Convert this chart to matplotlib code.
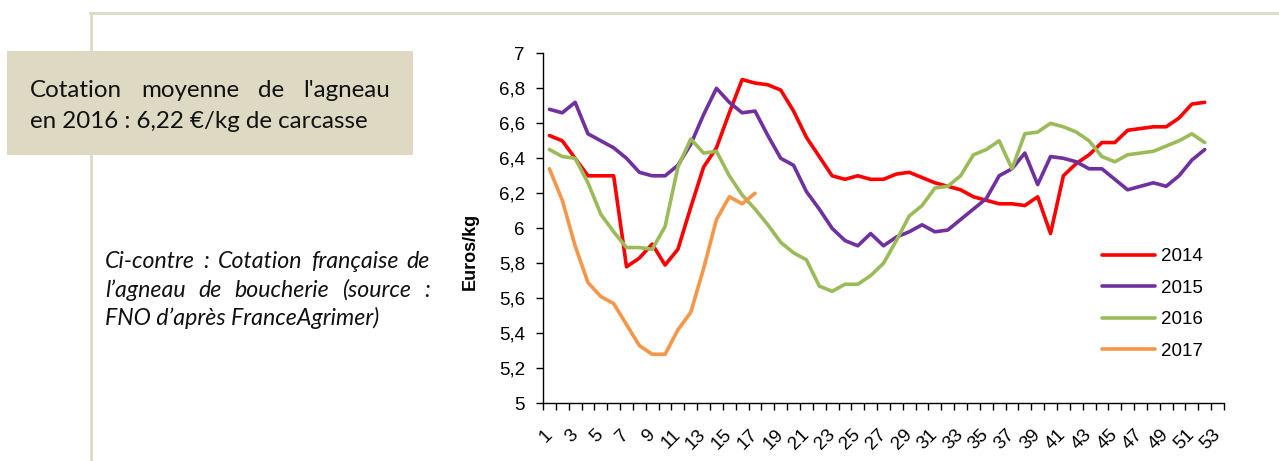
import matplotlib
matplotlib.use("Agg")
import matplotlib.pyplot as plt
import numpy as np
from matplotlib.lines import Line2D
from matplotlib.patches import Rectangle
from matplotlib.ticker import FuncFormatter

# weekly lamb price (euros / kg carcass)
weeks = list(range(1, 53))
prices_2014 = [6.53, 6.50, 6.40, 6.30, 6.30, 6.30, 5.78, 5.83, 5.91, 5.79,
               5.88, 6.12, 6.35, 6.46, 6.66, 6.85, 6.83, 6.82, 6.79, 6.67,
               6.52, 6.41, 6.30, 6.28, 6.30, 6.28, 6.28, 6.31, 6.32, 6.29,
               6.26, 6.24, 6.22, 6.18, 6.16, 6.14, 6.14, 6.13, 6.18, 5.97,
               6.30, 6.37, 6.42, 6.49, 6.49, 6.56, 6.57, 6.58, 6.58, 6.63,
               6.71, 6.72]
prices_2015 = [6.68, 6.66, 6.72, 6.54, 6.50, 6.46, 6.40, 6.32, 6.30, 6.30,
               6.36, 6.48, 6.65, 6.80, 6.72, 6.66, 6.67, 6.53, 6.40, 6.36,
               6.21, 6.11, 6.00, 5.93, 5.90, 5.97, 5.90, 5.95, 5.98, 6.02,
               5.98, 5.99, 6.05, 6.11, 6.17, 6.30, 6.34, 6.43, 6.25, 6.41,
               6.40, 6.38, 6.34, 6.34, 6.28, 6.22, 6.24, 6.26, 6.24, 6.30,
               6.39, 6.45]
prices_2016 = [6.45, 6.41, 6.40, 6.26, 6.08, 5.98, 5.89, 5.89, 5.88, 6.01,
               6.35, 6.51, 6.43, 6.44, 6.30, 6.19, 6.11, 6.02, 5.92, 5.86,
               5.82, 5.67, 5.64, 5.68, 5.68, 5.73, 5.80, 5.93, 6.07, 6.13,
               6.23, 6.24, 6.30, 6.42, 6.45, 6.50, 6.34, 6.54, 6.55, 6.60,
               6.58, 6.55, 6.50, 6.41, 6.38, 6.42, 6.43, 6.44, 6.47, 6.50,
               6.54, 6.49]
prices_2017 = [6.34, 6.16, 5.90, 5.69, 5.61, 5.57, 5.45, 5.33, 5.28, 5.28,
               5.42, 5.52, 5.77, 6.05, 6.18, 6.14, 6.20]

series = [("2014", prices_2014, "#FF0000"),
          ("2015", prices_2015, "#7030A0"),
          ("2016", prices_2016, "#9BBB59"),
          ("2017", prices_2017, "#F79646")]

W, H = 1279, 461
BEIGE = "#DDD9C3"

plt.rcParams['font.family'] = ['Liberation Sans', 'DejaVu Sans']

fig = plt.figure(figsize=(W / 100, H / 100), dpi=100)
fig.patch.set_facecolor("white")


def fx(x):
    return x / W


def fy(y):
    return 1 - y / H


def justify(words, x0, x1, y, **kw):
    """Place words on one line so that they fill x0..x1 (pixels)"""
    r = fig.canvas.get_renderer()
    texts = [fig.text(0, 0, w, va='baseline', ha='left', **kw) for w in words]
    widths = [t.get_window_extent(r).width for t in texts]
    gap = (x1 - x0 - sum(widths)) / (len(words) - 1)
    x = x0
    for t, w in zip(texts, widths):
        t.set_position((fx(x), fy(y)))
        x += w + gap


# page decoration: frame lines and the highlighted box
fig.add_artist(Line2D([fx(90), fx(W)], [fy(13.5), fy(13.5)], color=BEIGE, lw=2))
fig.add_artist(Line2D([fx(91), fx(91)], [fy(13), fy(H)], color=BEIGE, lw=2))
fig.add_artist(Rectangle((fx(7), fy(155)), fx(413) - fx(7), fy(51) - fy(155),
                         transform=fig.transFigure, facecolor=BEIGE,
                         edgecolor='none', zorder=2))

box_font = dict(family=['Lato', 'DejaVu Sans'], fontsize=17.4, color='#111111', zorder=3)
justify(["Cotation", "moyenne", "de", "l'agneau"], 30, 390, 97, **box_font)
fig.text(fx(30), fy(128), "en 2016 : 6,22 €/kg de carcasse", va='baseline',
         ha='left', **box_font)

note_font = dict(family=['Lato', 'DejaVu Sans'], fontsize=16.7, style='italic',
                 color='#111111')
justify(["Ci-contre", ":", "Cotation", "française", "de"], 105, 430, 268, **note_font)
justify(["l’agneau", "de", "boucherie", "(source", ":"], 105, 430, 297, **note_font)
fig.text(fx(105), fy(325), "FNO d’après FranceAgrimer)", va='baseline',
         ha='left', **note_font)

# chart
ax = fig.add_axes([fx(543), fy(403.3), fx(1224) - fx(543), fy(53.3) - fy(403.3)])
for label, vals, color in series:
    ax.plot(weeks[:len(vals)], vals, color=color, lw=2.6, label=label,
            solid_capstyle='round')

ax.set_xlim(0.5, 53.5)
ax.set_ylim(5, 7)
ax.set_yticks(np.arange(5, 7.01, 0.2))
ax.yaxis.set_major_formatter(FuncFormatter(
    lambda v, _: f"{v:.1f}".rstrip('0').rstrip('.').replace('.', ',')))
ax.set_xticks(range(1, 54, 2))
ax.set_xticklabels([str(w) for w in range(1, 54, 2)], rotation=45, ha='right',
                   va='center', rotation_mode='anchor')
ax.set_xticks(np.arange(0.5, 54, 1), minor=True)
ax.tick_params(axis='x', which='major', length=0, pad=21, labelsize=13.5)
ax.tick_params(axis='x', which='minor', length=5, width=1, direction='out')
ax.tick_params(axis='y', which='major', length=5, width=1, direction='out',
               pad=8, labelsize=13.5)
for side in ('top', 'right'):
    ax.spines[side].set_visible(False)
for side in ('left', 'bottom'):
    ax.spines[side].set_linewidth(1)

ax.set_ylabel("Euros/kg", fontsize=13, fontweight='bold', va='center')
ax.yaxis.set_label_coords((470 - 543) / 681, (403.3 - 251) / 350)

ax.legend(loc='upper left', bbox_to_anchor=(fx(1102), fy(248)),
          bbox_transform=fig.transFigure, frameon=False, fontsize=13.5,
          handlelength=2.85, handletextpad=0.3, labelspacing=0.77,
          borderpad=0, borderaxespad=0)

fig.savefig("out.png", dpi=100)
